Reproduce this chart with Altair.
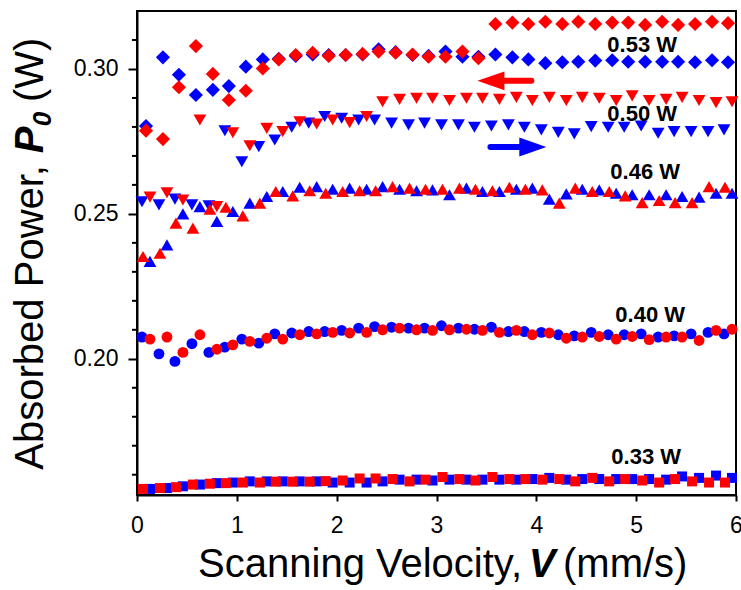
import altair as alt
import pandas as pd

# Scanning velocity grids (mm/s) for the individual runs
v_a = [0.05, 0.22, 0.38, 0.55, 0.72, 0.88, 1.05, 1.22, 1.38, 1.55, 1.72, 1.88,
       2.05, 2.22, 2.38, 2.55, 2.72, 2.88, 3.05, 3.22, 3.38, 3.55, 3.72, 3.88,
       4.05, 4.22, 4.38, 4.55, 4.72, 4.88, 5.05, 5.22, 5.38, 5.55, 5.72, 5.88]
v_b = [0.06, 0.23, 0.39, 0.56, 0.73, 0.89, 1.06, 1.23, 1.39, 1.56, 1.73, 1.89,
       2.06, 2.23, 2.39, 2.56, 2.73, 2.89, 3.06, 3.23, 3.39, 3.56, 3.73, 3.89,
       4.06, 4.23, 4.39, 4.56, 4.73, 4.89, 5.06, 5.23, 5.39, 5.56, 5.73, 5.89]
v_c = [0.09, 0.26, 0.42, 0.59, 0.76, 0.92, 1.09, 1.26, 1.42, 1.59, 1.76, 1.92,
       2.09, 2.26, 2.42, 2.59, 2.76, 2.92, 3.09, 3.26, 3.42, 3.59, 3.76, 3.92,
       4.09, 4.26, 4.42, 4.59, 4.76, 4.92, 5.09, 5.26, 5.42, 5.59, 5.76, 5.92]
v_d = [0.13, 0.30, 0.46, 0.63, 0.80, 0.96, 1.13, 1.30, 1.46, 1.63, 1.80, 1.96,
       2.13, 2.30, 2.46, 2.63, 2.80, 2.96, 3.13, 3.30, 3.46, 3.63, 3.80, 3.96,
       4.13, 4.30, 4.46, 4.63, 4.80, 4.96, 5.13, 5.30, 5.46, 5.63, 5.80, 5.96]

# Absorbed power P0 (W): forward (increasing V) and backward (decreasing V) scans
p053_fwd = [0.2803, 0.3040, 0.2980, 0.2910, 0.2928, 0.2941, 0.3008, 0.3033, 0.3035,
            0.3045, 0.3050, 0.3048, 0.3048, 0.3050, 0.3068, 0.3058, 0.3048, 0.3045,
            0.3060, 0.3042, 0.3042, 0.3050, 0.3040, 0.3033, 0.3020, 0.3023, 0.3025,
            0.3029, 0.3030, 0.3025, 0.3025, 0.3025, 0.3025, 0.3023, 0.3030, 0.3023]
p053_bwd = [0.2787, 0.2758, 0.2937, 0.3079, 0.2983, 0.2893, 0.2925, 0.3002, 0.3033,
            0.3048, 0.3056, 0.3045, 0.3048, 0.3052, 0.3060, 0.3056, 0.3050, 0.3042,
            0.3042, 0.3060, 0.3037, 0.3155, 0.3160, 0.3155, 0.3163, 0.3155, 0.3163,
            0.3155, 0.3160, 0.3160, 0.3152, 0.3163, 0.3152, 0.3155, 0.3163, 0.3158]
p050_fwd = [0.2542, 0.2531, 0.2551, 0.2531, 0.2528, 0.2787, 0.2680, 0.2732, 0.2755,
            0.2799, 0.2813, 0.2836, 0.2830, 0.2824, 0.2824, 0.2813, 0.2807, 0.2813,
            0.2807, 0.2807, 0.2799, 0.2803, 0.2807, 0.2799, 0.2790, 0.2781, 0.2776,
            0.2801, 0.2799, 0.2799, 0.2803, 0.2778, 0.2784, 0.2784, 0.2784, 0.2790]
p050_bwd = [0.2558, 0.2573, 0.2548, 0.2824, 0.2525, 0.2780, 0.2735, 0.2795, 0.2784,
            0.2818, 0.2810, 0.2824, 0.2815, 0.2836, 0.2887, 0.2895, 0.2899, 0.2899,
            0.2891, 0.2899, 0.2899, 0.2895, 0.2902, 0.2891, 0.2902, 0.2891, 0.2902,
            0.2899, 0.2891, 0.2907, 0.2891, 0.2895, 0.2902, 0.2891, 0.2884, 0.2887]
p046_fwd = [0.2336, 0.2393, 0.2500, 0.2525, 0.2474, 0.2508, 0.2537, 0.2560, 0.2577,
            0.2592, 0.2594, 0.2585, 0.2589, 0.2585, 0.2594, 0.2585, 0.2580, 0.2583,
            0.2566, 0.2589, 0.2577, 0.2577, 0.2585, 0.2589, 0.2551, 0.2569, 0.2585,
            0.2583, 0.2571, 0.2566, 0.2566, 0.2566, 0.2560, 0.2558, 0.2571, 0.2571]
p046_bwd = [0.2353, 0.2364, 0.2468, 0.2451, 0.2516, 0.2523, 0.2493, 0.2537, 0.2577,
            0.2562, 0.2580, 0.2571, 0.2577, 0.2580, 0.2580, 0.2594, 0.2589, 0.2585,
            0.2585, 0.2589, 0.2585, 0.2580, 0.2592, 0.2585, 0.2583, 0.2537, 0.2589,
            0.2577, 0.2577, 0.2562, 0.2539, 0.2546, 0.2539, 0.2539, 0.2594, 0.2592]
p040_fwd = [0.2075, 0.2017, 0.1991, 0.2052, 0.2022, 0.2040, 0.2068, 0.2054, 0.2086,
            0.2089, 0.2094, 0.2094, 0.2098, 0.2106, 0.2111, 0.2109, 0.2106, 0.2106,
            0.2114, 0.2106, 0.2102, 0.2109, 0.2094, 0.2094, 0.2091, 0.2083, 0.2079,
            0.2091, 0.2083, 0.2083, 0.2086, 0.2075, 0.2079, 0.2086, 0.2091, 0.2086]
p040_bwd = [0.2068, 0.2075, 0.2022, 0.2083, 0.2033, 0.2048, 0.2060, 0.2071, 0.2068,
            0.2083, 0.2086, 0.2091, 0.2089, 0.2091, 0.2100, 0.2106, 0.2100, 0.2098,
            0.2100, 0.2102, 0.2098, 0.2091, 0.2098, 0.2083, 0.2089, 0.2071, 0.2075,
            0.2077, 0.2068, 0.2077, 0.2066, 0.2075, 0.2075, 0.2063, 0.2098, 0.2102]
p033_fwd = [0.1551, 0.1554, 0.1560, 0.1566, 0.1571, 0.1573, 0.1577, 0.1577, 0.1577,
            0.1577, 0.1577, 0.1573, 0.1573, 0.1573, 0.1577, 0.1583, 0.1583, 0.1580,
            0.1583, 0.1583, 0.1583, 0.1583, 0.1583, 0.1585, 0.1589, 0.1583, 0.1585,
            0.1585, 0.1585, 0.1585, 0.1585, 0.1583, 0.1594, 0.1589, 0.1597, 0.1589]
p033_bwd = [0.1551, 0.1554, 0.1557, 0.1566, 0.1569, 0.1571, 0.1573, 0.1573, 0.1576,
            0.1576, 0.1576, 0.1578, 0.1580, 0.1587, 0.1587, 0.1585, 0.1577, 0.1583,
            0.1592, 0.1585, 0.1580, 0.1592, 0.1585, 0.1585, 0.1583, 0.1585, 0.1577,
            0.1589, 0.1577, 0.1585, 0.1580, 0.1573, 0.1585, 0.1577, 0.1573, 0.1573]

powers = ["0.33 W", "0.40 W", "0.46 W", "0.50 W", "0.53 W"]
shapes = ["square", "circle", "triangle-up", "triangle-down", "diamond"]
sizes = [100, 118, 165, 165, 200]

runs = [
    ("0.53 W", "forward", v_c, p053_fwd), ("0.50 W", "forward", v_a, p050_fwd),
    ("0.46 W", "forward", v_d, p046_fwd), ("0.40 W", "forward", v_a, p040_fwd),
    ("0.33 W", "forward", v_d, p033_fwd),
    ("0.53 W", "backward", v_c, p053_bwd), ("0.50 W", "backward", v_d, p050_bwd),
    ("0.46 W", "backward", v_b, p046_bwd), ("0.40 W", "backward", v_d, p040_bwd),
    ("0.33 W", "backward", v_b, p033_bwd),
]
rows = []
for power, scan, vs, ps in runs:
    for v, p in zip(vs, ps):
        rows.append({"v": v, "p": p, "power": power, "scan": scan})
df = pd.DataFrame(rows)

# Power labels beside each pair of curves
label_text = ["0.53 W", "0.50 W", "0.46 W", "0.40 W", "0.33 W"]
label_v = [5.06, 5.06, 5.09, 5.14, 5.10]
label_p = [0.3083, 0.2845, 0.2643, 0.2150, 0.1660]
labels = pd.DataFrame({"v": label_v, "p": label_p, "text": label_text})

# Scan-direction arrows
arrow_tail = [3.95, 3.54]
arrow_neck = [3.62, 3.88]
arrow_head = [3.545, 3.965]
arrow_p = [0.2959, 0.2731]
arrow_color = ["#ff0000", "#0000ff"]
arrow_shape = ["M-1,0L1,-0.7L1,0.7Z", "M1,0L-1,-0.7L-1,0.7Z"]
arrows = pd.DataFrame({"v": arrow_tail, "v2": arrow_neck, "vh": arrow_head,
                       "p": arrow_p, "c": arrow_color, "s": arrow_shape})

x_ticks = [0, 1, 2, 3, 4, 5, 6]
y_major = [0.20, 0.25, 0.30]
y_minor = [0.16, 0.17, 0.18, 0.19, 0.21, 0.22, 0.23, 0.24,
           0.26, 0.27, 0.28, 0.29, 0.31]

FONT = "Liberation Sans"

x_enc = alt.X("v:Q", scale=alt.Scale(domain=[0, 6], nice=False, zero=False),
              axis=alt.Axis(values=x_ticks, title=None, grid=False, format="d",
                            tickSize=6, labelPadding=13, labelOverlap=False,
                            labelFlush=False))
y_enc = alt.Y("p:Q", scale=alt.Scale(domain=[0.153, 0.32], nice=False, zero=False),
              axis=alt.Axis(values=y_major, title=None, grid=False, labelOverlap=False,
                            labelFlush=False, format=".2f", tickSize=9, labelPadding=10))

points = alt.Chart(df).mark_point(filled=True, opacity=1, strokeWidth=0).encode(
    x=x_enc,
    y=y_enc,
    color=alt.Color("scan:N", scale=alt.Scale(domain=["forward", "backward"],
                                              range=["#0000ff", "#ff0000"]), legend=None),
    shape=alt.Shape("power:N", scale=alt.Scale(domain=powers, range=shapes), legend=None),
    size=alt.Size("power:N", scale=alt.Scale(type="ordinal", domain=powers, range=sizes),
                  legend=None),
)

# Short minor ticks on the left axis
minor_ticks = alt.Chart(pd.DataFrame({"p": y_minor})).mark_rule(
    color="black", strokeWidth=2).encode(
    y="p:Q", x=alt.value(-5), x2=alt.value(0))

text_layer = alt.Chart(labels).mark_text(font=FONT, fontSize=22, fontWeight="bold",
                                         color="black").encode(
    x="v:Q", y="p:Q", text="text:N")

shafts = alt.Chart(arrows).mark_rule(strokeWidth=6, strokeCap="round").encode(
    x="v:Q", x2="v2:Q", y="p:Q", color=alt.Color("c:N", scale=None))
heads = alt.Chart(arrows).mark_point(filled=True, opacity=1, size=729, strokeWidth=0).encode(
    x="vh:Q", y="p:Q", color=alt.Color("c:N", scale=None),
    shape=alt.Shape("s:N", scale=None))

# Axis titles assembled from pieces so the symbols can be bold italic
TS = 40
x_title = [
    alt.Chart().mark_text(text="Scanning Velocity,", font=FONT, fontSize=TS, align="right",
                          baseline="alphabetic").encode(x=alt.value(385), y=alt.value(566)),
    alt.Chart().mark_text(text="V", font=FONT, fontSize=TS, fontWeight="bold", fontStyle="italic",
                          align="center", baseline="alphabetic").encode(x=alt.value(405), y=alt.value(566)),
    alt.Chart().mark_text(text="(mm/s)", font=FONT, fontSize=TS, align="left",
                          baseline="alphabetic").encode(x=alt.value(426), y=alt.value(566)),
]
y_title = [
    alt.Chart().mark_text(text="Absorbed Power,", font=FONT, fontSize=TS, angle=270, align="right",
                          baseline="alphabetic").encode(x=alt.value(-94), y=alt.value(154)),
    alt.Chart().mark_text(text="P", font=FONT, fontSize=TS, angle=270, fontWeight="bold",
                          fontStyle="italic", align="center",
                          baseline="alphabetic").encode(x=alt.value(-94), y=alt.value(129)),
    alt.Chart().mark_text(text="0", font=FONT, fontSize=26, angle=270, fontWeight="bold",
                          fontStyle="italic", align="center",
                          baseline="alphabetic").encode(x=alt.value(-86), y=alt.value(108)),
    alt.Chart().mark_text(text="(W)", font=FONT, fontSize=TS, angle=270, align="left",
                          baseline="alphabetic").encode(x=alt.value(-94), y=alt.value(91)),
]

chart = alt.layer(points, minor_ticks, text_layer, shafts, heads, *x_title, *y_title).properties(
    width=599, height=484,
    padding={"left": 137, "top": 11, "right": 5, "bottom": 95},
    autosize=alt.AutoSizeParams(type="none"),
).configure_view(stroke="black", strokeWidth=2).configure_axis(
    domainColor="black", domainWidth=2, tickColor="black", tickWidth=2,
    labelFont=FONT, labelFontSize=23, labelColor="black",
)

chart.save("out.html", embed_options={"renderer": "svg", "actions": False})
